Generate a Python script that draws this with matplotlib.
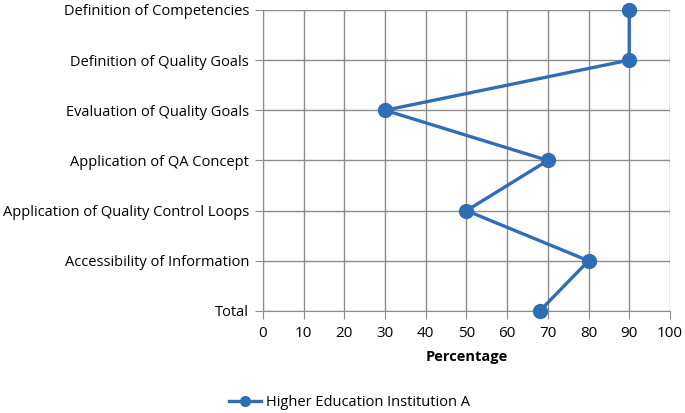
import matplotlib.pyplot as plt

plt.rcParams['font.family'] = ['Open Sans', 'DejaVu Sans']

categories = ['Definition of Competencies', 'Definition of Quality Goals',
              'Evaluation of Quality Goals', 'Application of QA Concept',
              'Application of Quality Control Loops', 'Accessibility of Information',
              'Total']
values = [90, 90, 30, 70, 50, 80, 68]
xticks = [0, 10, 20, 30, 40, 50, 60, 70, 80, 90, 100]

fig = plt.figure(figsize=(6.85, 4.13), dpi=100)
ax = fig.add_axes([0.384, 0.247, 0.594, 0.729])

ypos = list(range(len(categories)))[::-1]  # top to bottom
blue = '#2F6EB5'
line, = ax.plot(values, ypos, color=blue, lw=2.4, marker='o', ms=10,
                label='Higher Education Institution A', zorder=3, clip_on=False)

ax.set_xlim(0, 100)
ax.set_ylim(0, len(categories) - 1)
ax.set_xticks(xticks)
ax.set_yticks(ypos)
ax.set_yticklabels(categories)
ax.grid(True, color='#8c8c8c', lw=1)
for s in ['top', 'right']:
    ax.spines[s].set_visible(False)
for s in ['left', 'bottom']:
    ax.spines[s].set_color('#8c8c8c')
ax.tick_params(axis='both', color='#8c8c8c', length=6, labelsize=10.5, pad=4)
ax.tick_params(axis='x', direction='out', labelsize=11, pad=5)
ax.set_xlabel('Percentage', fontweight='bold', fontsize=10.5, labelpad=6)

fig.legend(handles=[line], loc='center', bbox_to_anchor=(0.51, 0.025),
           frameon=False, fontsize=10.5, handlelength=2.2, handletextpad=0.3,
           markerscale=0.7)

fig.savefig('out.png', dpi=100)
